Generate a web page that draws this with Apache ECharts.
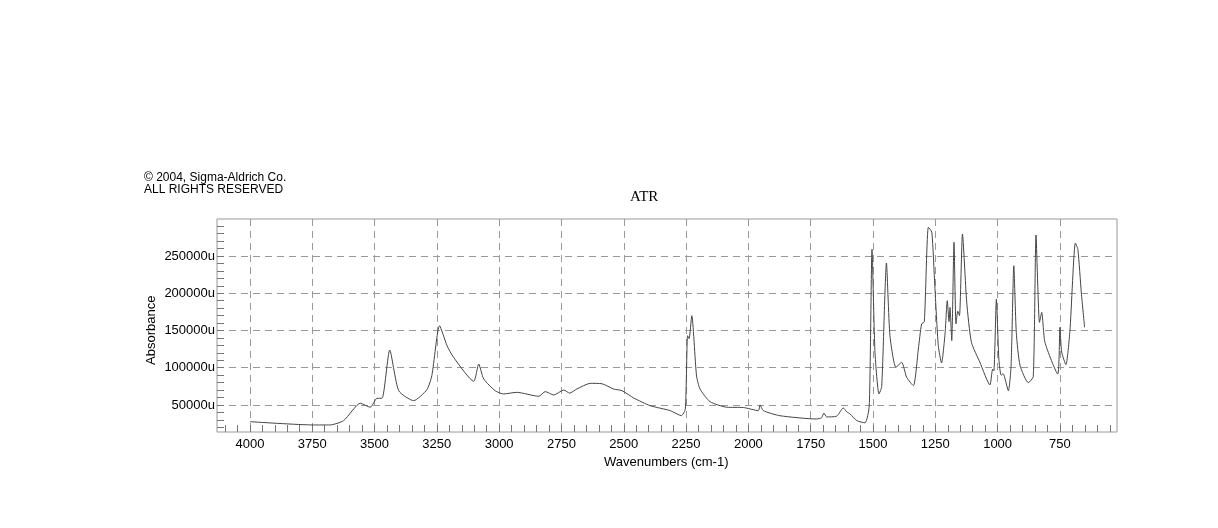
<!DOCTYPE html>
<html><head><meta charset="utf-8">
<script src="https://cdn.jsdelivr.net/npm/echarts@6/dist/echarts.min.js"></script>
<style>html,body{margin:0;padding:0;background:#fff}#c{width:1218px;height:528px}</style>
</head><body><div id="c"></div>
<script>
const wavenumbers = [3999,3744,3679,3624,3557,3517,3490,3470,3439,3403,3343,3290,3270,3239,3209,3183,3102,3082,3062,3016,2982,2929,2841,2815,2781,2741,2717,2688,2634,2587,2541,2507,2460,2394,2313,2269,2253,2244,2238,2227,2208,2194,2154,2087,2020,1960,1953,1940,1873,1726,1706,1697,1686,1646,1619,1606,1592,1565,1532,1515,1504,1492,1476,1465,1446,1432,1408,1385,1365,1338,1318,1305,1294,1278,1264,1252,1238,1225,1211,1202,1195,1191,1184,1175,1167,1160,1153,1141,1124,1105,1071,1031,1020,1015,1005,995,986,978,957,946,935,925,910,877,857,846,832,823,810,759,750,743,726,710,688,678,664,651];
const absorbance = [27600,23200,23200,29000,52300,47000,59000,59000,123800,69200,55800,70500,89400,156400,129600,114000,81800,105000,85000,69200,64800,67000,61700,68000,63400,70100,66000,71500,79100,78500,71500,69200,59400,49100,42400,35700,44600,143000,139000,169900,89000,71500,54500,47000,46600,42400,50000,42400,35600,31200,33000,39200,34000,35000,46000,41000,38000,29000,26000,49000,259000,120700,64800,75000,240600,143000,100600,107300,87200,75900,125200,158700,162000,288500,282000,210000,129600,106400,145300,190000,162000,181000,136400,268400,159000,176000,170000,279500,188000,134000,107300,76900,98000,96000,192000,111700,90000,92000,69200,102700,237000,147000,103000,80000,88000,278200,161000,174400,134000,91600,154300,121000,104100,149000,267400,259000,200000,154300];
const xLabels = [4000,3750,3500,3250,3000,2750,2500,2250,2000,1750,1500,1250,1000,750];
const yLabels = [50000,100000,150000,200000,250000];
const xMinor = []; for (let v = 550; v <= 4100; v += 50) xMinor.push(v);
const yMinor = []; for (let v = 20000; v <= 290000; v += 10000) yMinor.push(v);

const chart = echarts.init(document.getElementById('c'));
chart.setOption({
  animation: false,
  graphic: [
    {type:'text', left:630, top:190, style:{text:'ATR', font:'15px "Liberation Serif"', fill:'#000'}},
    {type:'text', left:144, top:172, style:{text:'© 2004, Sigma-Aldrich Co.\nALL RIGHTS RESERVED', font:'12px "Liberation Sans"', fill:'#000', lineHeight:12}},
    {type:'text', left:604, top:456, style:{text:'Wavenumbers (cm-1)', font:'13px "Liberation Sans"', fill:'#000'}},
    {type:'text', x:145, y:365, rotation:Math.PI/2, style:{text:'Absorbance', font:'13px "Liberation Sans"', fill:'#000'}}
  ],
  grid: {left:217, right:101, top:219, bottom:96, show:true, borderColor:'#999', borderWidth:1},
  xAxis: [{
    type:'value', inverse:true, min:521, max:4132,
    axisLine:{show:false},
    axisTick:{show:true, inside:true, length:7, customValues:xMinor, lineStyle:{color:'#777'}},
    axisLabel:{customValues:xLabels, formatter: v => String(v), color:'#000', fontSize:13, fontFamily:'Liberation Sans', margin:6},
    splitLine:{show:false}
  },{
    type:'value', inverse:true, min:521, max:4132, position:'bottom',
    axisLine:{show:false}, axisLabel:{show:false},
    axisTick:{show:false, customValues:xLabels},
    splitLine:{show:true, lineStyle:{color:'#999', type:[7,5]}}
  }],
  yAxis: [{
    type:'value', min:13758, max:299664,
    axisLine:{show:false},
    axisTick:{show:true, inside:true, length:7, customValues:yMinor, lineStyle:{color:'#777'}},
    axisLabel:{customValues:yLabels, formatter: v => v + 'u', color:'#000', fontSize:13, fontFamily:'Liberation Sans', margin:2},
    splitLine:{show:false}
  },{
    type:'value', min:13758, max:299664, position:'left',
    axisLine:{show:false}, axisLabel:{show:false},
    axisTick:{show:false, customValues:yLabels},
    splitLine:{show:true, lineStyle:{color:'#999', type:[7,5]}}
  }],
  series: [{
    type:'line', xAxisIndex:0, yAxisIndex:0, showSymbol:false, smooth:0.2,
    data: wavenumbers.map((w,i)=>[w, absorbance[i]]),
    lineStyle:{color:'#444', width:1}
  }]
});
</script></body></html>
